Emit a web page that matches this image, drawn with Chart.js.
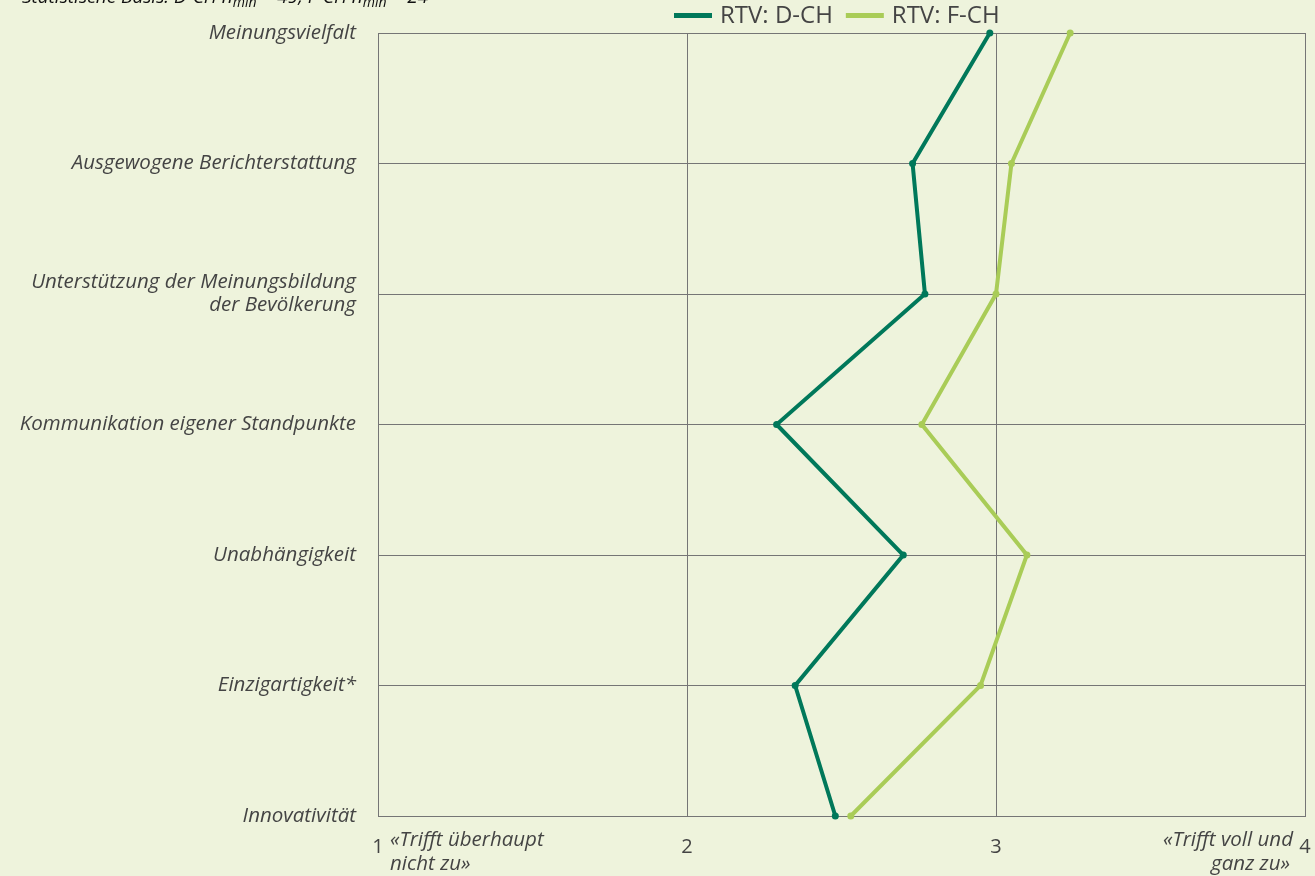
<!DOCTYPE html>
<html>
<head>
<meta charset="utf-8">
<script src="https://cdn.jsdelivr.net/npm/chart.js@4/dist/chart.umd.min.js"></script>
<style>
  html, body { margin: 0; padding: 0; background: #eef3dc; }
  #wrap { width: 1315px; height: 876px; position: relative; }
</style>
</head>
<body>
<div id="wrap"><canvas id="chart"></canvas></div>
<script>
// Kategorien (oben nach unten)
const kategorien = [
    'Meinungsvielfalt',
    'Ausgewogene Berichterstattung',
    ['Unterstützung der Meinungsbildung', 'der Bevölkerung'],
    'Kommunikation eigener Standpunkte',
    'Unabhängigkeit',
    'Einzigartigkeit*',
    'Innovativität'
];
const werteDCH = [2.98, 2.73, 2.77, 2.29, 2.70, 2.35, 2.48];
const werteFCH = [3.24, 3.05, 3.00, 2.76, 3.10, 2.95, 2.53];
const serienNamen = ['RTV: D-CH', 'RTV: F-CH'];
const skalaTicks = [1, 2, 3, 4];
const skalaLinks = ['«Trifft überhaupt', 'nicht zu»'];
const skalaRechts = ['«Trifft voll und', 'ganz zu»'];

const farbeDunkel = '#00785a';
const farbeHell = '#a9cc57';
const textFarbe = '#444444';
const gitterFarbe = '#757575';
const schrift = "'Open Sans', 'Noto Sans', sans-serif";

// Legende, Kopfzeile und Skalenbeschriftungen
const extrasPlugin = {
    id: 'extras',
    afterDraw(chart) {
        const ctx = chart.ctx;
        const x = chart.scales.x;
        ctx.save();

        // Kopfzeile (oben abgeschnitten)
        ctx.fillStyle = '#111';
        ctx.textBaseline = 'alphabetic';
        ctx.textAlign = 'left';
        let px = 22;
        const teile = [
            ['Statistische Basis: D-CH n', 19], ['min', 14], [' = 49, F-CH n', 19], ['min', 14], [' = 24', 19]
        ];
        teile.forEach(([t, s]) => {
            ctx.font = 'italic ' + s + 'px ' + schrift;
            ctx.fillText(t, px, s === 19 ? 3 : 7);
            px += ctx.measureText(t).width;
        });

        // Legende
        ctx.font = '24px ' + schrift;
        ctx.textBaseline = 'middle';
        const farben = [farbeDunkel, farbeHell];
        let lx = 674;
        serienNamen.forEach((n, i) => {
            ctx.fillStyle = farben[i];
            ctx.fillRect(lx, 13, 38, 5);
            ctx.fillStyle = textFarbe;
            ctx.fillText(n, lx + 46, 16);
            lx += 46 + ctx.measureText(n).width + 13;
        });

        // Skalenbeschriftungen
        ctx.font = 'italic 20.5px ' + schrift;
        ctx.fillStyle = textFarbe;
        ctx.textAlign = 'left';
        const x1 = x.getPixelForValue(skalaTicks[0]);
        ctx.fillText(skalaLinks[0], x1 + 12, 840);
        ctx.fillText(skalaLinks[1], x1 + 12, 864);
        ctx.textAlign = 'right';
        const x4 = x.getPixelForValue(skalaTicks[skalaTicks.length - 1]);
        ctx.fillText(skalaRechts[0], x4 - 12, 840);
        ctx.fillText(skalaRechts[1], x4 - 15, 864);
        ctx.restore();
    }
};

const ctx = document.getElementById('chart').getContext('2d');
new Chart(ctx, {
    type: 'line',
    data: {
        labels: kategorien,
        datasets: [
            { label: serienNamen[0], data: werteDCH, borderColor: farbeDunkel, backgroundColor: farbeDunkel },
            { label: serienNamen[1], data: werteFCH, borderColor: farbeHell, backgroundColor: farbeHell }
        ]
    },
    options: {
        responsive: true,
        maintainAspectRatio: false,
        animation: false,
        indexAxis: 'y',
        layout: { padding: { top: 33, right: 10, bottom: 0, left: 0 } },
        elements: {
            line: { borderWidth: 4, tension: 0 },
            point: { radius: 3.5, borderWidth: 0, hoverRadius: 4 }
        },
        datasets: { line: { clip: false } },
        plugins: { legend: { display: false }, tooltip: { enabled: false } },
        scales: {
            x: {
                type: 'linear',
                min: 1,
                max: 4,
                afterFit: s => { s.height = 60; s.paddingLeft = 0; s.paddingRight = 0; },
                afterBuildTicks: s => { s.ticks = skalaTicks.map(v => ({ value: v })); },
                grid: { color: gitterFarbe, lineWidth: 1, drawTicks: false },
                border: { color: gitterFarbe, width: 1 },
                ticks: { color: textFarbe, padding: 19, font: { family: schrift, size: 20 } }
            },
            y: {
                type: 'category',
                offset: false,
                afterFit: s => { s.width = 378; s.paddingTop = 0; s.paddingBottom = 0; },
                grid: { color: gitterFarbe, lineWidth: 1, drawTicks: false },
                border: { color: gitterFarbe, width: 1 },
                ticks: { color: textFarbe, padding: 22, font: { family: schrift, size: 20.5, style: 'italic', lineHeight: 1.12 } }
            }
        }
    },
    plugins: [extrasPlugin]
});
</script>
</body>
</html>
